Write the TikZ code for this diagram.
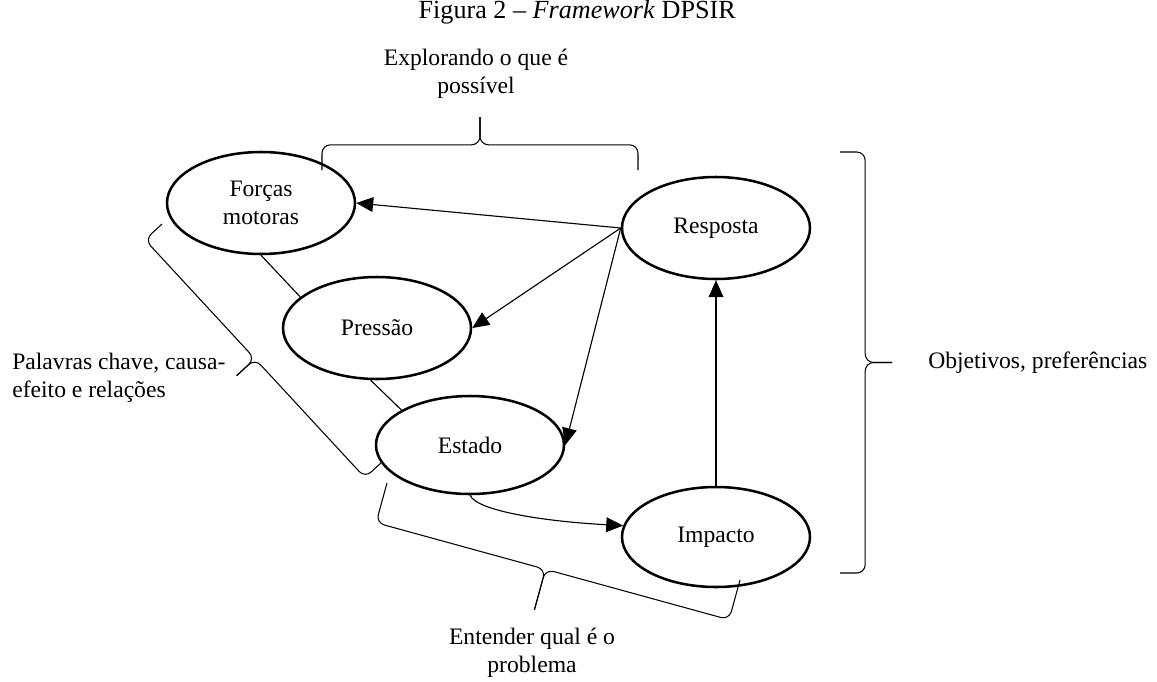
\documentclass[tikz,border=0pt]{standalone}
\usepackage{fontspec}
\setmainfont{Liberation Serif}
\usepackage{tikz}
\usetikzlibrary{positioning,arrows.meta,shapes.geometric,calc}

% chave: #1,#2 pontas, #3 meia altura, #4 posicao da ponta, #5 altura da ponta, #6 nome
\newcommand{\chave}[6]{%
  \coordinate (#6-m) at ($(#1)!#4!(#2)$);
  \coordinate (#6) at ($(#6-m)!#5!90:(#2)$);
  \draw[chv] (#1) -- ($(#1)!#3!90:(#2)$) -- ($(#6-m)!#3!90:(#2)$) -- (#6);
  \draw[chv] (#2) -- ($(#2)!#3!-90:(#1)$) -- ($(#6-m)!#3!90:(#2)$) -- (#6);
}

\begin{document}
\begin{tikzpicture}[
    font=\fontsize{16.8}{19.8}\selectfont,
    elip/.style={draw, ellipse, line width=1.8pt, minimum width=4.7cm, minimum height=2.55cm,
                 inner sep=0pt, align=center},
    txt/.style={inner sep=0pt, align=center},
    lnk/.style={line width=0.8pt},
    arr/.style={-{Triangle[length=12pt, width=10.5pt]}, line width=0.8pt},
    chv/.style={line width=0.75pt, rounded corners=6pt}
  ]
  \useasboundingbox (0,0) rectangle (28.925,-17.025);

  \node[txt, font=\fontsize{18.6}{21}\selectfont] (titulo) at (14.43,-0.3)
    {Figura 2 -- \textit{Framework} DPSIR};

  \node[elip] (forcas)   at (6.525,-5.075)  {Forças\\motoras};
  \node[elip] (pressao)  at (9.425,-8.2)    {Pressão};
  \node[elip, minimum height=2.45cm] (estado) at (11.75,-11.125) {Estado};
  \node[elip] (resposta) at (17.9,-5.7)     {Resposta};
  \node[elip, minimum height=2.5cm] (impacto)  at (17.9,-13.425) {Impacto};

  \draw[lnk] (forcas.south) -- (pressao.158);
  \draw[lnk] (pressao.263) -- (estado.153);
  \draw[arr] (resposta.west) -- (forcas.east);
  \draw[arr] (resposta.west) -- (pressao.east);
  \draw[arr] (resposta.west) -- (estado.east);
  \draw[arr] (impacto.north) -- (resposta.south);
  \draw[arr] (estado.south) to[out=-65, in=177, out looseness=0.3, in looseness=1.2] (impacto.173);

  % chaves
  \chave{8.05,-4.25}{15.95,-4.25}{0.63cm}{0.5}{1.32cm}{topo}
  \chave{21.0,-3.8}{21.0,-14.325}{0.63cm}{0.5}{1.3cm}{dir}
  \chave{9.55,-11.55}{4.05,-5.6}{0.58cm}{0.5}{1.2cm}{esq}
  \chave{18.5,-14.5}{9.675,-12.075}{1.03cm}{0.52}{2.08cm}{baixo}

  \node[txt] (explorar) at (11.9,-1.85) {Explorando o que é\\possível};
  \node[txt, right=0.9cm of dir] (objetivos) {Objetivos, preferências};
  \node[txt, align=left, anchor=west] (palavras) at (0.3,-9.45) {Palavras chave, causa-\\efeito e relações};
  \node[txt] (entender) at (13.3,-16.33) {Entender qual é o\\problema};
\end{tikzpicture}
\end{document}
